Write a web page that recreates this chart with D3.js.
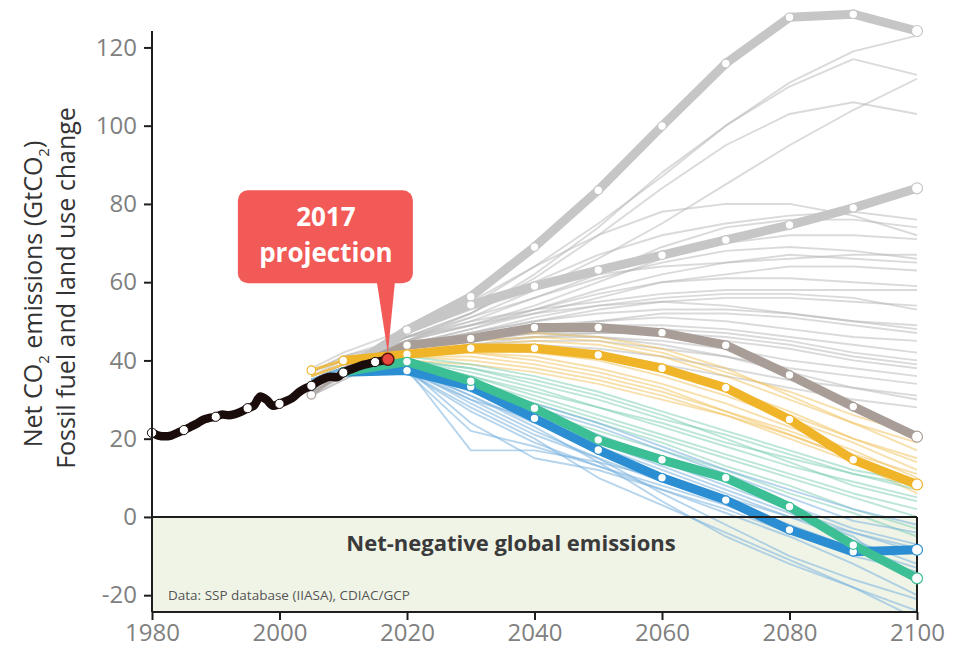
<!DOCTYPE html>
<html>
<head>
<meta charset="utf-8">
<script src="https://cdn.jsdelivr.net/npm/d3@7/dist/d3.min.js"></script>
<style>
  html, body { margin: 0; padding: 0; background: #fff; }
  svg { display: block; font-family: "Open Sans", "Liberation Sans", sans-serif; }
</style>
</head>
<body>
<svg id="chart" width="953" height="654"></svg>
<script>
// Historical net CO2 emissions (fossil fuel + land use change), GtCO2
const historyYears = [1980,1981,1982,1983,1984,1985,1986,1987,1988,1989,1990,1991,1992,1993,1994,1995,1996,1997,1998,1999,2000,2001,2002,2003,2004,2005,2006,2007,2008,2009,2010,2011,2012,2013,2014,2015,2016,2017];
const historyValues = [21.5,20.8,20.6,20.8,21.5,22.2,23.0,23.8,24.8,25.3,25.6,26.2,26.0,26.3,26.9,27.8,28.5,30.8,29.9,28.4,28.9,29.6,30.4,31.8,32.8,33.5,34.6,35.4,35.8,35.7,36.9,37.6,38.2,38.8,39.2,39.6,39.9,40.3];
const historyDotYears = [1980,1985,1990,1995,2000,2005,2010,2015];
const projectionYear = 2017;

// Scenario time steps
const scenarioYears = [2005,2010,2020,2030,2040,2050,2060,2070,2080,2090,2100];

// Highlighted marker pathways
const markerHighGray  = [33.5,37,47.8,56.3,69,83.5,99.9,115.9,127.7,128.5,124.2];
const markerUpperGray = [33.5,37,47.8,54.2,59,63.1,66.9,70.8,74.6,79,84];
const markerTaupe     = [31.2,37,43.9,45.6,48.4,48.4,47.1,43.9,36.3,28.2,20.5];
const markerAmber     = [37.5,40,41.6,43.1,43.1,41.4,38,33,24.9,14.6,8.3];
const markerBlue      = [33.5,37,37.4,33.3,25.2,17.1,10,4.3,-3.3,-8.9,-8.4];
const markerGreen     = [33.5,37,39.7,34.7,27.8,19.7,14.6,10,2.6,-7.2,-15.7];

// Ensemble of other pathways, grouped by colour family
const grayScenarios = [
  [36,39,46,52,62,74,88,100,110,117,113],
  [35,39,47,54,64,75,87,100,111,119,123],
  [36,40,46,52,61,72,84,95,103,106,103],
  [33,38,45,51,58,66,75,85,95,104,112],
  [37,40,45,50,56,62,69,74,76,76,74],
  [33,38,45,49,54,60,66,70,72,72,71],
  [33,37,44,48,53,58,62,65,67,66,65],
  [36,39,44,48,52,56,60,62,64,64,63],
  [33,37,44,47,50,53,55,56,56,55,54],
  [31,36,44,47,50,52,53,53,52,50,48],
  [32,37,43,46,49,50,51,50,48,46,45],
  [33,37,43,46,48,49,49,48,46,44,42],
  [32,36,43,45,47,47,47,45,43,40,38],
  [31,35,43,45,46,46,45,43,40,38,36],
  [32,36,42,44,45,45,43,41,38,36,34],
  [33,36,42,44,44,43,41,38,35,33,31],
  [32,36,42,43,43,42,39,36,33,30,28],
  [37,41,45,52,60,67,72,75,77,78,76],
  [38,42,48,55,64,72,78,80,80,77,72],
  [34,38,47,53,58,62,64,65,66,67,67],
  [33,38,46,50,53,55,57,58,58,58,58],
  [37,41,46,51,56,61,65,68,69,68,66],
  [33,37,45,49,53,57,60,61,61,60,59],
  [33,37,44,47,51,54,56,57,57,56,53],
  [32,37,44,46,48,50,52,52,51,49,47],
  [31,35,43,45,47,48,48,47,45,42,40],
  [34,38,46,49,52,54,55,54,52,50,49],
  [35,39,44,46,47,46,44,41,37,33,30],
  [32,36,42,44,46,47,47,46,44,41,39]
];
const amberScenarios = [
  [36,39,42,44,44,42,38,33,27,20,14],
  [36,39,42,43,42,40,36,31,25,19,12],
  [36,39,41,42,41,38,34,29,23,17,10],
  [36,39,41,42,40,37,33,27,21,15,9],
  [36,39,42,44,45,44,41,36,30,24,17],
  [36,39,41,41,39,36,32,27,22,16,11],
  [36,39,41,40,38,35,31,26,20,14,6],
  [36,39,43,46,47,46,43,38,31,24,19],
  [36,39,40,39,37,34,30,26,21,15,8],
  [36,39,42,43,43,41,37,32,26,20,15],
  [36,39,42,45,46,45,42,37,32,26,21]
];
const greenScenarios = [
  [35,38,40,36,31,26,21,16,11,6,2],
  [35,38,40,37,33,28,23,18,13,9,5],
  [35,38,39,35,30,25,20,15,10,5,0],
  [35,38,40,38,34,30,25,21,16,11,7],
  [35,38,39,34,29,24,19,13,8,2,-3],
  [35,38,40,36,32,28,24,19,15,11,8],
  [35,38,41,39,36,32,27,22,17,12,9],
  [35,38,39,33,27,22,17,12,6,1,-5],
  [35,38,40,38,35,31,26,20,14,8,4]
];
const blueScenarios = [
  [35,38,38,17,17,14,10,5,0,-4,-8],
  [35,38,38,24,15,12,7,2,-4,-10,-14],
  [35,38,37,30,22,15,6,-2,-10,-16,-21],
  [35,38,38,31,24,18,12,6,0,-6,-12],
  [35,38,37,28,20,10,3,-4,-11,-18,-24],
  [35,38,38,32,26,20,14,8,2,-4,-9],
  [35,38,38,29,21,15,9,4,-2,-8,-13],
  [35,38,37,33,27,21,15,9,3,-3,-7],
  [35,38,38,30,25,19,13,7,1,-5,-17],
  [35,38,37,27,19,13,7,1,-5,-12,-20],
  [35,38,38,33,28,23,17,11,5,-1,-4],
  [35,38,37,34,29,24,18,12,7,2,-2],
  [35,38,37,22,18,13,8,3,-3,-8,-16],
  [35,38,38,31,23,14,4,-5,-12,-18,-26]
];

// Axis ticks
const xTicks = [1980,2000,2020,2040,2060,2080,2100];
const yTicks = [-20,0,20,40,60,80,100,120];

const svg = d3.select("#chart");
const plotLeft = 152, plotRight = 917, plotTop = 31, plotBottom = 612;

const x = d3.scaleLinear().domain([1980, 2100]).range([plotLeft, plotRight]);
const y = d3.scaleLinear().domain([-24.3, 124.2]).range([plotBottom, plotTop]);

svg.append("defs").append("clipPath").attr("id", "plotClip")
  .append("rect").attr("x", plotLeft).attr("y", 0)
  .attr("width", plotRight - plotLeft + 10).attr("height", plotBottom);

// Net-negative zone
svg.append("rect")
  .attr("x", x(1980)).attr("y", y(0))
  .attr("width", x(2100) - x(1980)).attr("height", plotBottom - y(0))
  .attr("fill", "#eff4e7");

const plot = svg.append("g").attr("clip-path", "url(#plotClip)");

const line = d3.line()
  .defined(d => d != null)
  .x((d, i) => x(scenarioYears[i]))
  .y(d => y(d));

function drawThin(data, color, opacity) {
  plot.append("g").selectAll("path").data(data).join("path")
    .attr("d", line)
    .attr("fill", "none")
    .attr("stroke", color)
    .attr("stroke-width", 1.9)
    .attr("stroke-opacity", opacity)
    .attr("stroke-linejoin", "round");
}
drawThin(grayScenarios, "#b5b5b5", 0.5);
drawThin(amberScenarios, "#f2c25a", 0.5);
drawThin(greenScenarios, "#79cdb2", 0.5);
drawThin(blueScenarios, "#7ab2de", 0.55);

// Zero line and right border of the net-negative zone
svg.append("line")
  .attr("x1", x(1980)).attr("x2", x(2100))
  .attr("y1", y(0)).attr("y2", y(0))
  .attr("stroke", "#1e1e1e").attr("stroke-width", 2);
svg.append("line")
  .attr("x1", x(2100)).attr("x2", x(2100))
  .attr("y1", y(0)).attr("y2", plotBottom)
  .attr("stroke", "#1e1e1e").attr("stroke-width", 2);

const markers = [
  { values: markerHighGray,  color: "#c6c6c6" },
  { values: markerUpperGray, color: "#c6c6c6" },
  { values: markerTaupe,     color: "#a89e97" },
  { values: markerAmber,     color: "#f0b429" },
  { values: markerBlue,      color: "#2b8ed3" },
  { values: markerGreen,     color: "#3cbf95" }
];

// Early segment of each pathway drawn thin, the rest heavy
markers.forEach(m => {
  plot.append("path")
    .attr("d", line(m.values.map((d, i) => i <= 1 ? d : null)))
    .attr("fill", "none")
    .attr("stroke", m.color)
    .attr("stroke-width", 3)
    .attr("stroke-opacity", 0.8);
  plot.append("path")
    .attr("d", line(m.values.map((d, i) => i >= 1 ? d : null)))
    .attr("fill", "none")
    .attr("stroke", m.color)
    .attr("stroke-width", 9)
    .attr("stroke-linejoin", "round")
    .attr("stroke-linecap", "round");
});
markers.forEach(m => {
  svg.append("g").selectAll("circle").data(m.values).join("circle")
    .attr("cx", (d, i) => x(scenarioYears[i]))
    .attr("cy", d => y(d))
    .attr("r", (d, i) => i === m.values.length - 1 ? 5.5 : 4.3)
    .attr("fill", "#fff")
    .attr("stroke", m.color)
    .attr("stroke-width", 1.2);
});

// Historical emissions
const histLine = d3.line()
  .x((d, i) => x(historyYears[i]))
  .y(d => y(d))
  .curve(d3.curveMonotoneX);
svg.append("path")
  .attr("d", histLine(historyValues))
  .attr("fill", "none")
  .attr("stroke", "#1b0c0c")
  .attr("stroke-width", 8.5)
  .attr("stroke-linejoin", "round")
  .attr("stroke-linecap", "round");
svg.append("g").selectAll("circle").data(historyDotYears).join("circle")
  .attr("cx", d => x(d))
  .attr("cy", d => y(historyValues[historyYears.indexOf(d)]))
  .attr("r", 4.6)
  .attr("fill", "#fff")
  .attr("stroke", "#1b0c0c")
  .attr("stroke-width", 1);

// Axes
const tickFont = "'Open Sans', sans-serif";
const yAxis = svg.append("g")
  .attr("transform", `translate(${plotLeft},0)`)
  .call(d3.axisLeft(y).tickValues(yTicks).tickFormat(d => String(d)).tickSize(8).tickPadding(7).tickSizeOuter(0));
yAxis.select(".domain").attr("d", `M0,${plotTop}V${plotBottom}`).attr("stroke", "#1e1e1e").attr("stroke-width", 2);
yAxis.selectAll(".tick line").attr("stroke", "#1e1e1e").attr("stroke-width", 2);
yAxis.selectAll(".tick text")
  .attr("fill", "#808080").attr("font-size", 24).attr("font-family", tickFont);

const xAxis = svg.append("g")
  .attr("transform", `translate(0,${plotBottom})`)
  .call(d3.axisBottom(x).tickValues(xTicks).tickFormat(d => String(d)).tickSize(8).tickPadding(4).tickSizeOuter(0));
xAxis.select(".domain").attr("d", `M${plotLeft},0H${plotRight}`).attr("stroke", "#1e1e1e").attr("stroke-width", 2);
xAxis.selectAll(".tick line").attr("stroke", "#1e1e1e").attr("stroke-width", 2);
xAxis.selectAll(".tick text")
  .attr("fill", "#808080").attr("font-size", 24).attr("font-family", tickFont);

// Zone label and source note
svg.append("text")
  .attr("x", 511).attr("y", y(-8.6))
  .attr("text-anchor", "middle")
  .attr("font-size", 22).attr("font-weight", 700)
  .attr("fill", "#3a3a3a")
  .text("Net-negative global emissions");
svg.append("text")
  .attr("x", 168).attr("y", y(-20) + 5)
  .attr("font-size", 13.5)
  .attr("fill", "#555")
  .text("Data: SSP database (IIASA), CDIAC/GCP");

// Y axis title
const title = svg.append("text")
  .attr("transform", "translate(42,294) rotate(-90)")
  .attr("text-anchor", "middle")
  .attr("font-size", 25)
  .attr("fill", "#333");
title.append("tspan").text("Net CO");
title.append("tspan").attr("font-size", 15).attr("dy", 7).text("2");
title.append("tspan").attr("dy", -7).text(" emissions (GtCO");
title.append("tspan").attr("font-size", 15).attr("dy", 7).text("2");
title.append("tspan").attr("dy", -7).text(")");
svg.append("text")
  .attr("transform", "translate(75,288) rotate(-90)")
  .attr("text-anchor", "middle")
  .attr("font-size", 25)
  .attr("fill", "#333")
  .text("Fossil fuel and land use change");

// 2017 projection callout
const px = x(projectionYear), py = y(historyValues[historyYears.indexOf(projectionYear)]);
const callout = svg.append("g");
callout.append("rect")
  .attr("x", px - 150).attr("y", py - 169)
  .attr("width", 175).attr("height", 93)
  .attr("rx", 10)
  .attr("fill", "#f15a56");
callout.append("path")
  .attr("d", `M${px - 11},${py - 77}L${px + 7},${py - 77}L${px},${py - 6}Z`)
  .attr("fill", "#f15a56");
callout.append("text")
  .attr("x", px - 62).attr("y", py - 133)
  .attr("text-anchor", "middle")
  .attr("font-size", 26).attr("font-weight", 700).attr("fill", "#fff")
  .text("2017");
callout.append("text")
  .attr("x", px - 62).attr("y", py - 97)
  .attr("text-anchor", "middle")
  .attr("font-size", 26).attr("font-weight", 700).attr("fill", "#fff")
  .text("projection");
svg.append("circle")
  .attr("cx", px).attr("cy", py).attr("r", 6)
  .attr("fill", "#e8473d").attr("stroke", "#5a1410").attr("stroke-width", 1.5);
</script>
</body>
</html>
